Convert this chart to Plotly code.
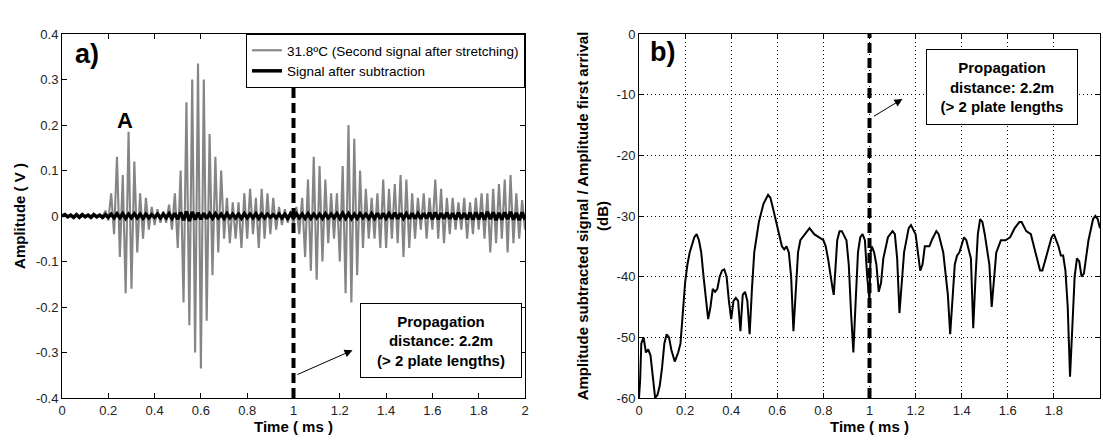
import plotly.graph_objects as go

# ---- panel a) : stretched signal (gray) and residual after subtraction (black)
half_period = 0.0125  # ms between successive extremes
pos_peaks = [0.002, 0.003, 0.002, 0.003, 0.002, 0.003, 0.003, 0.012, 0.05, 0.13,
             0.09, 0.185, 0.12, 0.05, 0.04, 0.02, 0.015, 0.01, 0.025, 0.05,
             0.10, 0.25, 0.30, 0.335, 0.30, 0.18, 0.13, 0.10, 0.04, 0.03,
             0.03, 0.05, 0.06, 0.04, 0.06, 0.05, 0.04, 0.02, 0.015, 0.01,
             0.02, 0.04, 0.08, 0.13, 0.11, 0.08, 0.05, 0.05, 0.11, 0.20,
             0.17, 0.10, 0.06, 0.04, 0.05, 0.08, 0.06, 0.07, 0.09, 0.08,
             0.05, 0.04, 0.05, 0.04, 0.08, 0.06, 0.04, 0.04, 0.03, 0.04,
             0.03, 0.04, 0.05, 0.05, 0.06, 0.07, 0.08, 0.09, 0.05, 0.035]
neg_peaks = [-0.002, -0.003, -0.002, -0.002, -0.003, -0.002, -0.003, -0.01, -0.04, -0.09,
             -0.17, -0.16, -0.08, -0.05, -0.03, -0.02, -0.015, -0.015, -0.03, -0.07,
             -0.19, -0.24, -0.30, -0.335, -0.23, -0.13, -0.08, -0.05, -0.06, -0.05,
             -0.07, -0.05, -0.04, -0.07, -0.05, -0.04, -0.03, -0.02, -0.015, -0.02,
             -0.04, -0.09, -0.12, -0.14, -0.10, -0.06, -0.05, -0.10, -0.17, -0.19,
             -0.13, -0.07, -0.05, -0.05, -0.07, -0.07, -0.05, -0.06, -0.09, -0.07,
             -0.05, -0.03, -0.05, -0.03, -0.05, -0.06, -0.04, -0.03, -0.03, -0.05,
             -0.04, -0.03, -0.05, -0.08, -0.06, -0.05, -0.08, -0.06, -0.05, -0.03]
res_pos = [0.003, 0.002, 0.003, 0.003, 0.002, 0.003, 0.002, 0.003, 0.004, 0.005,
           0.005, 0.004, 0.005, 0.004, 0.004, 0.003, 0.004, 0.004, 0.005, 0.006,
           0.008, 0.010, 0.009, 0.007, 0.006, 0.005, 0.005, 0.004, 0.005, 0.004,
           0.004, 0.005, 0.004, 0.005, 0.004, 0.004, 0.003, 0.004, 0.004, 0.005,
           0.005, 0.004, 0.005, 0.004, 0.004, 0.005, 0.004, 0.005, 0.006, 0.005,
           0.004, 0.005, 0.004, 0.005, 0.006, 0.006, 0.005, 0.007, 0.006, 0.005,
           0.006, 0.005, 0.006, 0.007, 0.008, 0.006, 0.007, 0.006, 0.007, 0.006,
           0.007, 0.008, 0.007, 0.009, 0.008, 0.007, 0.008, 0.009, 0.007, 0.008]
res_neg = [-0.002, -0.003, -0.003, -0.002, -0.003, -0.002, -0.003, -0.003, -0.004, -0.004,
           -0.005, -0.004, -0.004, -0.005, -0.004, -0.003, -0.004, -0.004, -0.005, -0.007,
           -0.009, -0.011, -0.008, -0.007, -0.006, -0.005, -0.004, -0.005, -0.004, -0.004,
           -0.005, -0.004, -0.004, -0.005, -0.004, -0.003, -0.004, -0.004, -0.005, -0.004,
           -0.004, -0.005, -0.005, -0.004, -0.005, -0.004, -0.004, -0.005, -0.005, -0.006,
           -0.005, -0.004, -0.005, -0.005, -0.006, -0.005, -0.006, -0.006, -0.005, -0.006,
           -0.006, -0.006, -0.005, -0.007, -0.007, -0.006, -0.006, -0.007, -0.006, -0.007,
           -0.008, -0.007, -0.008, -0.007, -0.009, -0.008, -0.007, -0.008, -0.009, -0.008]

# ---- panel b) : ratio subtracted signal / first arrival, dB
db_time = [0, 0.005, 0.01, 0.02, 0.03, 0.04, 0.05, 0.06, 0.07, 0.08, 0.09, 0.10, 0.11, 0.12,
           0.13, 0.14, 0.155, 0.17, 0.18, 0.19, 0.20, 0.21, 0.22, 0.24, 0.25, 0.26, 0.27,
           0.28, 0.29, 0.30, 0.31, 0.32, 0.33, 0.34, 0.35, 0.36, 0.37, 0.38, 0.39, 0.40,
           0.41, 0.42, 0.43, 0.44, 0.45, 0.46, 0.47, 0.48, 0.49, 0.50, 0.52, 0.54, 0.56,
           0.57, 0.58, 0.60, 0.62, 0.63, 0.64, 0.65, 0.66, 0.67, 0.68, 0.69, 0.70, 0.72,
           0.74, 0.76, 0.78, 0.80, 0.81, 0.82, 0.84, 0.845, 0.85, 0.86, 0.87, 0.88, 0.90,
           0.91, 0.92, 0.93, 0.94, 0.95, 0.96, 0.97, 0.98, 0.99, 1.0, 1.005, 1.01, 1.02,
           1.03, 1.04, 1.05, 1.06, 1.08, 1.10, 1.11, 1.12, 1.13, 1.14, 1.15, 1.17, 1.18,
           1.20, 1.21, 1.22, 1.23, 1.24, 1.26, 1.27, 1.29, 1.30, 1.32, 1.34, 1.35, 1.36,
           1.37, 1.38, 1.39, 1.41, 1.42, 1.44, 1.45, 1.46, 1.47, 1.48, 1.49, 1.50, 1.52,
           1.53, 1.54, 1.55, 1.57, 1.59, 1.61, 1.63, 1.65, 1.66, 1.68, 1.70, 1.72, 1.74,
           1.75, 1.77, 1.79, 1.80, 1.82, 1.83, 1.84, 1.85, 1.86, 1.87, 1.88, 1.89, 1.90,
           1.91, 1.92, 1.93, 1.95, 1.97, 1.98, 1.99, 2.0]
db_level = [-60, -57, -51, -50, -52.5, -52, -53, -57, -60, -59.5, -58, -55, -51, -49.5,
            -50, -52, -54, -52.5, -51, -46, -41, -38, -36, -33.5, -33, -34, -36,
            -40, -44, -47, -45, -42, -42.5, -42, -40, -39, -38.8, -40, -44, -47,
            -44, -43.5, -44, -49, -43, -42.5, -44, -49.5, -42, -36, -31, -28, -26.5,
            -27, -28.5, -32, -35, -35.5, -35, -36, -40, -49, -43, -36, -34, -33,
            -32, -33, -33.5, -34, -35, -37, -42, -43, -40, -34, -32.5, -32.5, -34,
            -38, -46, -52.5, -44, -36, -33.5, -33, -34, -40, -44, -36, -35, -36,
            -38, -42.5, -41, -37, -33.5, -32.5, -33, -37, -46, -41, -36, -32, -31.5,
            -33, -36, -39, -38, -35, -35, -34, -32.5, -33, -36, -43, -49.5, -44,
            -38, -36.5, -36, -33.5, -34, -37, -48.5, -40, -33, -30.5, -31, -33, -38,
            -45, -40, -36, -34, -34, -33.5, -32, -31, -31, -32.5, -33, -36, -39,
            -39, -36, -33.5, -33, -35, -36.5, -36.5, -39, -45, -56.5, -48, -40, -37,
            -37.5, -40, -39.5, -34, -30.5, -30, -30.5, -32]

x_ticks = [0, 0.2, 0.4, 0.6, 0.8, 1, 1.2, 1.4, 1.6, 1.8, 2]
x_labels = ["0", "0.2", "0.4", "0.6", "0.8", "1", "1.2", "1.4", "1.6", "1.8", "2"]
ya_ticks = [0.4, 0.3, 0.2, 0.1, 0, -0.1, -0.2, -0.3, -0.4]
ya_labels = ["0.4", "0.3", "0.2", "0.1", "0", "-0.1", "-0.2", "-0.3", "-0.4"]
yb_ticks = [0, -10, -20, -30, -40, -50, -60]
yb_labels = ["0", "-10", "-20", "-30", "-40", "-50", "-60"]
marker_time = 1.0
box_text = "Propagation<br>distance: 2.2m<br>(> 2 plate lengths)"
box_text_b = "Propagation<br>distance: 2.2m<br>(> 2 plate lengths"

# interleave extremes into a single time series
t_sig, v_sig, v_res = [], [], []
for k in range(len(pos_peaks)):
    t_sig += [(2 * k + 1) * half_period, (2 * k + 2) * half_period]
    v_sig += [pos_peaks[k], neg_peaks[k]]
    v_res += [res_pos[k], res_neg[k]]
t_sig = [0] + t_sig
v_sig = [0] + v_sig
v_res = [0] + v_res

FONT = "Liberation Sans, Arial, sans-serif"
W, H = 1103, 441

fig = go.Figure()
fig.add_trace(go.Scatter(x=t_sig, y=v_sig, mode="lines",
                         line=dict(color="#858585", width=2.1),
                         name="31.8ºC (Second signal after stretching)"))
fig.add_trace(go.Scatter(x=t_sig, y=v_res, mode="lines",
                         line=dict(color="black", width=3.5),
                         name="Signal after subtraction"))
fig.add_trace(go.Scatter(x=db_time, y=db_level, mode="lines",
                         line=dict(color="black", width=2),
                         xaxis="x2", yaxis="y2", showlegend=False))

axis_common = dict(showline=True, linecolor="black", linewidth=1, mirror="ticks",
                   ticks="inside", ticklen=5, tickcolor="black", zeroline=False,
                   tickfont=dict(family=FONT, size=13, color="#222"),
                   automargin=False)
title_font = dict(family=FONT, size=15, color="black")

fig.update_layout(
    width=W, height=H,
    margin=dict(l=0, r=0, t=0, b=0),
    paper_bgcolor="white", plot_bgcolor="white",
    xaxis=dict(domain=[62 / W, 525 / W], range=[0, 2], tickvals=x_ticks,
               ticktext=x_labels, showgrid=False, anchor="y",
               title=dict(text="<b>Time ( ms )</b>", font=title_font, standoff=4),
               **axis_common),
    yaxis=dict(domain=[43 / H, 407 / H], range=[-0.4, 0.4], tickvals=ya_ticks,
               ticktext=ya_labels, showgrid=False, anchor="x",
               title=dict(text="<b>Amplitude ( V )</b>", font=title_font, standoff=6),
               **axis_common),
    xaxis2=dict(domain=[639 / W, 1100 / W], range=[0, 2], tickvals=x_ticks,
                ticktext=x_labels, anchor="y2", showgrid=True, gridcolor="black",
                griddash="1px,3px", gridwidth=1,
                title=dict(text="<b>Time ( ms )</b>", font=title_font, standoff=4),
                **axis_common),
    yaxis2=dict(domain=[43 / H, 407 / H], range=[-60, 0], tickvals=yb_ticks,
                ticktext=yb_labels, anchor="x2", showgrid=True, gridcolor="black",
                griddash="1px,3px", gridwidth=1,
                title=dict(text="<b>Amplitude subtracted signal / Amplitude first arrival<br>(dB)</b>",
                           font=title_font, standoff=4),
                **axis_common),
    legend=dict(x=525 / W, y=407 / H, xanchor="right", yanchor="top",
                bgcolor="white", bordercolor="black", borderwidth=1,
                font=dict(family=FONT, size=13.5, color="black"),
                tracegroupgap=0, itemwidth=30),
    showlegend=True,
)

# dashed marker lines at 1 ms
fig.add_shape(type="line", xref="x", yref="y", x0=marker_time, x1=marker_time,
              y0=-0.4, y1=0.295, line=dict(color="black", width=4, dash="10px,5px"))
fig.add_shape(type="line", xref="x2", yref="y2", x0=marker_time, x1=marker_time,
              y0=-60, y1=0, line=dict(color="black", width=4, dash="10px,5px"))

box_font = dict(family=FONT, size=15, color="black")
# panel labels
fig.add_annotation(x=0.11, y=0.356, xref="x", yref="y", text="<b>a)</b>", showarrow=False,
                   font=dict(family=FONT, size=27, color="black"))
fig.add_annotation(x=0.27, y=0.21, xref="x", yref="y", text="<b>A</b>", showarrow=False,
                   font=dict(family=FONT, size=22, color="black"))
fig.add_annotation(x=0.10, y=-3.0, xref="x2", yref="y2", text="<b>b)</b>", showarrow=False,
                   font=dict(family=FONT, size=27, color="black"))

# text boxes
fig.add_annotation(x=1.635, y=-0.274, xref="x", yref="y", text="<b>" + box_text + "</b>",
                   showarrow=False, font=box_font, bgcolor="white", bordercolor="black",
                   borderwidth=1, borderpad=0, width=160, height=73, align="center")
fig.add_annotation(x=1.575, y=-8.73, xref="x2", yref="y2", text="<b>" + box_text_b + "</b>",
                   showarrow=False, font=box_font, bgcolor="white", bordercolor="black",
                   borderwidth=1, borderpad=0, width=150, height=74, align="center")

# arrows
fig.add_annotation(x=1.255, y=-0.295, ax=1.01, ay=-0.35, xref="x", yref="y",
                   axref="x", ayref="y", text="", showarrow=True, arrowhead=2,
                   arrowsize=1.6, arrowwidth=1, arrowcolor="black")
fig.add_annotation(x=1.143, y=-10.7, ax=1.013, ay=-13.7, xref="x2", yref="y2",
                   axref="x2", ayref="y2", text="", showarrow=True, arrowhead=2,
                   arrowsize=1.6, arrowwidth=1, arrowcolor="black")

# drop the default page margin so the figure fills the window exactly
fig.write_html("out.html", config={"displayModeBar": False},
               post_script="document.body.style.margin='0';document.body.style.overflow='hidden';")
